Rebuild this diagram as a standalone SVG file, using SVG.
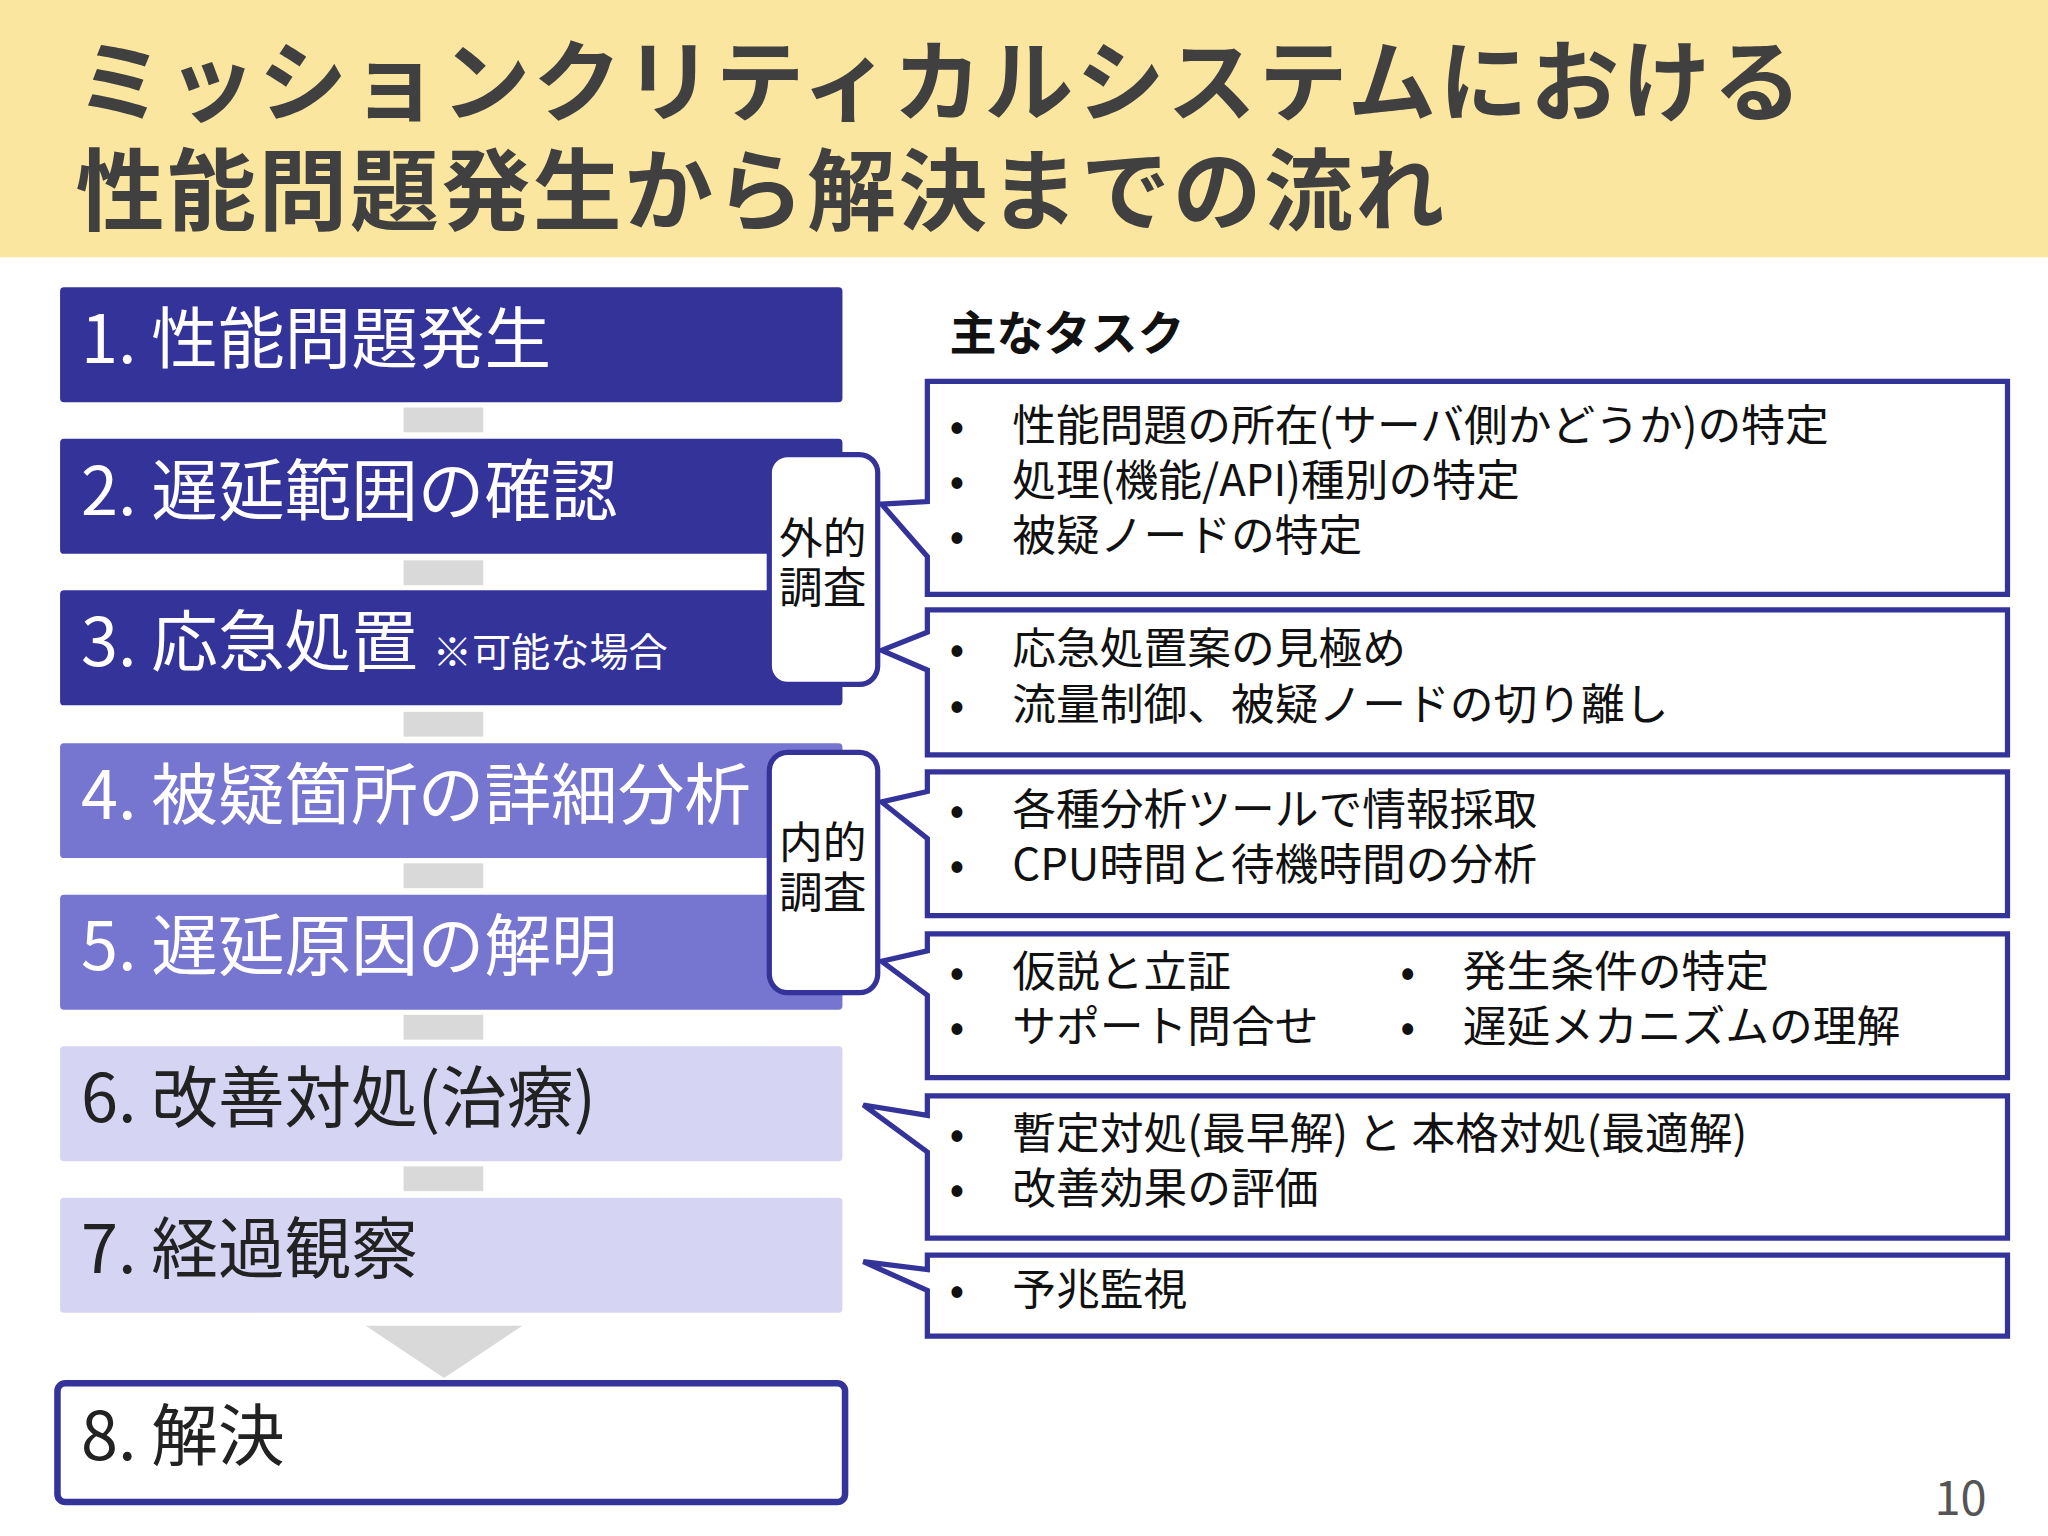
<svg xmlns="http://www.w3.org/2000/svg" width="2048" height="1536" viewBox="0 0 2048 1536">
<style>
text{font-family:"Noto Sans CJK JP","Noto Sans",sans-serif}
.title{font-size:68px;font-weight:bold;fill:#404040;letter-spacing:2px}
.bt{font-size:51px;fill:#fff}
.btd{font-size:51px;fill:#222}
.lab{fill:#fff;stroke:#34339A;stroke-width:4}
.co{fill:#fff;stroke:#34339A;stroke-width:4;stroke-linejoin:miter}
.t{font-size:33.5px;fill:#111}
.conn{fill:#D9D9D9}
</style>
<rect width="2048" height="1536" fill="#fff"/>
<g transform="scale(1.30612)">
<rect x="0" y="0" width="1568" height="197" fill="#FBE6A0"/>
<text class="title" x="58" y="87">ミッションクリティカルシステムにおける</text>
<text class="title" x="58" y="171">性能問題発生から解決までの流れ</text>
<g id="connectors">
<rect class="conn" x="309" y="312" width="61" height="19"/>
<rect class="conn" x="309" y="429" width="61" height="19"/>
<rect class="conn" x="309" y="545" width="61" height="19"/>
<rect class="conn" x="309" y="661" width="61" height="19"/>
<rect class="conn" x="309" y="777" width="61" height="19"/>
<rect class="conn" x="309" y="893" width="61" height="19"/>
<polygon fill="#D9D9D9" points="280,1015 400,1015 340,1055"/>
</g>
<g id="n1"><rect x="46" y="220" width="599" height="88" rx="3" fill="#34339A"/><text class="bt" x="62" y="278">1. 性能問題発生</text></g>
<g id="n2"><rect x="46" y="336" width="599" height="88" rx="3" fill="#34339A"/><text class="bt" x="62" y="394">2. 遅延範囲の確認</text></g>
<g id="n3"><rect x="46" y="452" width="599" height="88" rx="3" fill="#34339A"/><text class="bt" x="62" y="510">3. 応急処置 <tspan font-size="30">※可能な場合</tspan></text></g>
<g id="n4"><rect x="46" y="569" width="599" height="88" rx="3" fill="#7675D0"/><text class="bt" x="62" y="627">4. 被疑箇所の詳細分析</text></g>
<g id="n5"><rect x="46" y="685" width="599" height="88" rx="3" fill="#7675D0"/><text class="bt" x="62" y="743">5. 遅延原因の解明</text></g>
<g id="n6"><rect x="46" y="801" width="599" height="88" rx="3" fill="#D5D4F3"/><text class="btd" x="62" y="859">6. 改善対処(治療)</text></g>
<g id="n7"><rect x="46" y="917" width="599" height="88" rx="3" fill="#D5D4F3"/><text class="btd" x="62" y="975">7. 経過観察</text></g>
<g id="n8"><rect x="44" y="1059" width="603" height="91" rx="6" fill="#fff" stroke="#34339A" stroke-width="5"/><text class="btd" x="62" y="1118">8. 解決</text></g>
<g id="ext"><rect class="lab" x="589" y="348" width="83" height="176" rx="14"/><text class="t" x="630" y="424" text-anchor="middle" font-size="29">外的</text><text class="t" x="630" y="462" text-anchor="middle" font-size="29">調査</text></g>
<g id="int"><rect class="lab" x="589" y="576" width="83" height="184" rx="14"/><text class="t" x="630" y="657" text-anchor="middle" font-size="29">内的</text><text class="t" x="630" y="695" text-anchor="middle" font-size="29">調査</text></g>
<text x="727" y="268" font-size="36" font-weight="bold" fill="#111">主なタスク</text>
<g id="cA"><path class="co" d="M710,292 H1537 V455 H710 V426 L675,386 L710,384 Z"/>
<text class="t" x="727" y="338">•</text><text class="t" x="775" y="338">性能問題の所在(サーバ側かどうか)の特定</text>
<text class="t" x="727" y="380">•</text><text class="t" x="775" y="380">処理(機能/API)種別の特定</text>
<text class="t" x="727" y="422">•</text><text class="t" x="775" y="422">被疑ノードの特定</text></g>
<g id="cB"><path class="co" d="M710,467 H1537 V578 H710 V513 L675,498 L710,484 Z"/>
<text class="t" x="727" y="508">•</text><text class="t" x="775" y="508">応急処置案の見極め</text>
<text class="t" x="727" y="551">•</text><text class="t" x="775" y="551">流量制御、被疑ノードの切り離し</text></g>
<g id="cC"><path class="co" d="M710,591 H1537 V701 H710 V642 L675,614 L710,606 Z"/>
<text class="t" x="727" y="632">•</text><text class="t" x="775" y="632">各種分析ツールで情報採取</text>
<text class="t" x="727" y="674">•</text><text class="t" x="775" y="674">CPU時間と待機時間の分析</text></g>
<g id="cD"><path class="co" d="M710,715 H1537 V825 H710 V762 L675,736 L710,728 Z"/>
<text class="t" x="727" y="756">•</text><text class="t" x="775" y="756">仮説と立証</text>
<text class="t" x="1072" y="756">•</text><text class="t" x="1120" y="756">発生条件の特定</text>
<text class="t" x="727" y="798">•</text><text class="t" x="775" y="798">サポート問合せ</text>
<text class="t" x="1072" y="798">•</text><text class="t" x="1120" y="798">遅延メカニズムの理解</text></g>
<g id="cE"><path class="co" d="M710,839 H1537 V948 H710 V882 L661,846 L710,854 Z"/>
<text class="t" x="727" y="880">•</text><text class="t" x="775" y="880">暫定対処(最早解) と 本格対処(最適解)</text>
<text class="t" x="727" y="922">•</text><text class="t" x="775" y="922">改善効果の評価</text></g>
<g id="cF"><path class="co" d="M710,961 H1537 V1023 H710 V988 L661,966 L710,972 Z"/>
<text class="t" x="727" y="999">•</text><text class="t" x="775" y="999">予兆監視</text></g>
<text x="1521" y="1160" font-size="36" fill="#555" text-anchor="end">10</text>
</g>
</svg>
